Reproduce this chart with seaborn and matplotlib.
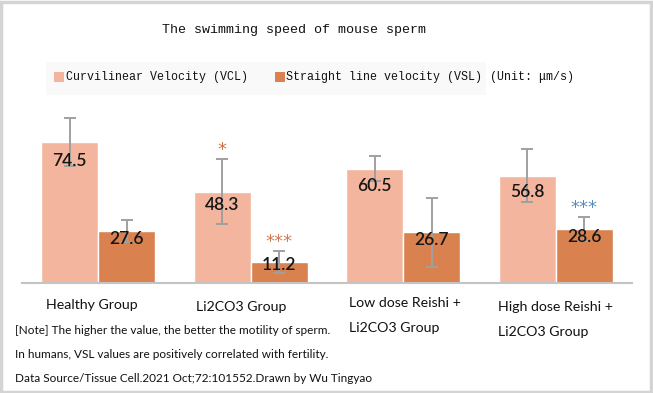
"""Swimming speed of mouse sperm: grouped bar chart with error bars."""
import numpy as np
import pandas as pd
import matplotlib
matplotlib.use('Agg')
import matplotlib.pyplot as plt
from matplotlib.patches import Rectangle
import seaborn as sns

groups = ['Healthy', 'Li2CO3', 'Low', 'High']
series = ['Curvilinear Velocity (VCL)', 'Straight line velocity (VSL)']
vcl = [74.5, 48.3, 60.5, 56.8]
vsl = [27.6, 11.2, 26.7, 28.6]
vcl_err = [12.8, 17.0, 6.6, 13.8]
vsl_err = [5.7, 5.9, 18.4, 6.4]
# significance marks: (series index, group index, text, colour)
marks = [(0, 1, '*', '#c8714b'), (1, 1, '***', '#d27a52'), (1, 3, '***', '#5a8cbb')]
group_labels = [['Healthy Group'], ['Li2CO3 Group'],
                ['Low dose Reishi +', 'Li2CO3 Group'],
                ['High dose Reishi +', 'Li2CO3 Group']]
notes = ['[Note] The higher the value, the better the motility of sperm.',
         'In humans, VSL values are positively correlated with fertility.',
         'Data Source/Tissue Cell.2021 Oct;72:101552.Drawn by Wu Tingyao']

colors = ['#f3b59d', '#d9824f']
W, H = 653, 393

df = pd.DataFrame({
    'group': groups * 2,
    'series': [series[0]] * 4 + [series[1]] * 4,
    'value': vcl + vsl,
})

sns.set_style('white')
plt.rcParams['font.family'] = ['Lato', 'DejaVu Sans']

fig = plt.figure(figsize=(W / 100, H / 100), dpi=100)
ax = fig.add_axes([22 / W, 1 - 283 / H, 610 / W, 183 / H])

sns.barplot(data=df, x='group', y='value', hue='series', palette=colors,
            width=0.745, gap=0, saturation=1, legend=False, ax=ax)

bars = list(ax.containers)
errs = [vcl_err, vsl_err]
vals = [vcl, vsl]
for si, cont in enumerate(bars):
    xs = [p.get_x() + p.get_width() / 2 for p in cont.patches]
    ax.errorbar(xs, vals[si], yerr=errs[si], fmt='none', ecolor='#a0a0a0',
                elinewidth=1.4, capsize=4, capthick=1.4, zorder=3)
    for x, v in zip(xs, vals[si]):
        ax.text(x, max(v - 10, v * 0.85), f'{v}', ha='center', va='center',
                fontsize=12.5, fontweight='semibold', color='#161616', zorder=4)

for si, gi, txt, col in marks:
    p = bars[si].patches[gi]
    top = vals[si][gi] + errs[si][gi]
    ax.annotate(txt, (p.get_x() + p.get_width() / 2, top), xytext=(0, 0),
                textcoords='offset points', ha='center', va='bottom',
                fontsize=13, color=col, family='DejaVu Sans', zorder=4)

ax.set_xlim(-0.5, 3.5)
ax.set_ylim(0, 96.7)
ax.set_xlabel('')
ax.set_ylabel('')
ax.set_xticks([])
ax.set_yticks([])
for s in ['top', 'left', 'right']:
    ax.spines[s].set_visible(False)
ax.spines['bottom'].set_color('#c4c4c4')
ax.spines['bottom'].set_linewidth(1.5)


def fx(x, y):
    return x / W, 1 - y / H


# outer border
fig.patches.append(Rectangle((0.002, 0.003), 0.995, 0.993, transform=fig.transFigure,
                             fill=False, edgecolor='#d4d4d4', linewidth=2.5))

# title and legend (monospace like the original)
mono = 'Liberation Mono'
fig.text(*fx(294, 30), 'The swimming speed of mouse sperm', ha='center', va='center',
         family=mono, fontsize=9.6, color='#111111')
fig.patches.append(Rectangle(fx(46, 95), 440 / W, 33 / H, transform=fig.transFigure,
                             facecolor='#f9f9f9', edgecolor='none', zorder=0))
for (px, tx), col, lab in zip([(54, 66), (275, 286)], colors, series):
    fig.patches.append(Rectangle(fx(px, 82), 10 / W, 10 / H, transform=fig.transFigure,
                                 facecolor=col, edgecolor='none'))
    fig.text(*fx(tx, 77), lab, ha='left', va='center', family=mono,
             fontsize=8.4, color='#111111')
fig.text(*fx(490, 77), '(Unit: μm/s)', ha='left', va='center', family=mono,
         fontsize=8.4, color='#111111')

# category labels (hand-placed text boxes in the original)
label_pos = [(92, 305, 'center'), (241, 307, 'center'), (349, 303, 'left'), (498, 307, 'left')]
for (x, y, ha), lines in zip(label_pos, group_labels):
    for k, line in enumerate(lines):
        fig.text(*fx(x, y + 25 * k), line, ha=ha, va='center', fontsize=10.2,
                 color='#111111')

for k, line in enumerate(notes):
    fig.text(*fx(15, 331 + 23.5 * k), line, ha='left', va='center', fontsize=8.5,
             color='#111111')

fig.savefig('out.png', dpi=100)
